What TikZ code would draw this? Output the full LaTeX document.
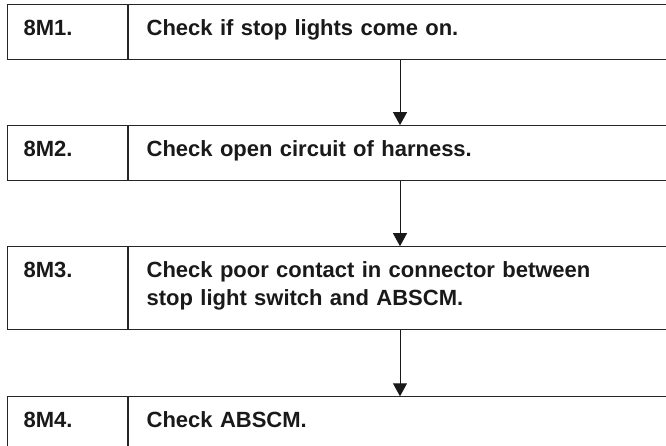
\documentclass[tikz,border=0pt]{standalone}
\usepackage{fontspec}
\setmainfont{Liberation Sans}
\usetikzlibrary{arrows.meta,positioning}

\begin{document}
\begin{tikzpicture}[
  x=1pt, y=-1pt,
  font=\fontsize{22}{28}\selectfont\bfseries,
  numbox/.style={draw=black!85, line width=1.1pt, text=black!90, align=left,
    inner xsep=16pt, inner ysep=0pt, text width=88pt,
    text height=31pt, text depth=24pt},
  textbox/.style={numbox, inner xsep=18pt, text width=517pt},
  arr/.style={-{Triangle[width=14pt,length=13pt]}, line width=1pt, black!90}
]
\useasboundingbox (0,0) rectangle (666,446);
\clip (0,0) rectangle (666,446);
\node[numbox, anchor=north west] (n1) at (7,4) {8M1.};
\node[textbox, right=0pt of n1] (t1) {Check if stop lights come on.};
\node[numbox, below=65pt of n1] (n2) {8M2.};
\node[textbox, right=0pt of n2] (t2) {Check open circuit of harness.};
\node[numbox, below=65pt of n2, text depth=52pt] (n3) {8M3.};
\node[textbox, right=0pt of n3, text depth=52pt] (t3) {Check poor contact in connector between\\stop light switch and ABSCM.};
\node[numbox, below=66pt of n3] (n4) {8M4.};
\node[textbox, right=0pt of n4] (t4) {Check ABSCM.};
\coordinate (ax) at (400,0);
\draw[arr] (t1.south -| ax) -- (t2.north -| ax);
\draw[arr] (t2.south -| ax) -- (t3.north -| ax);
\draw[arr] (t3.south -| ax) -- (t4.north -| ax);
\end{tikzpicture}
\end{document}
